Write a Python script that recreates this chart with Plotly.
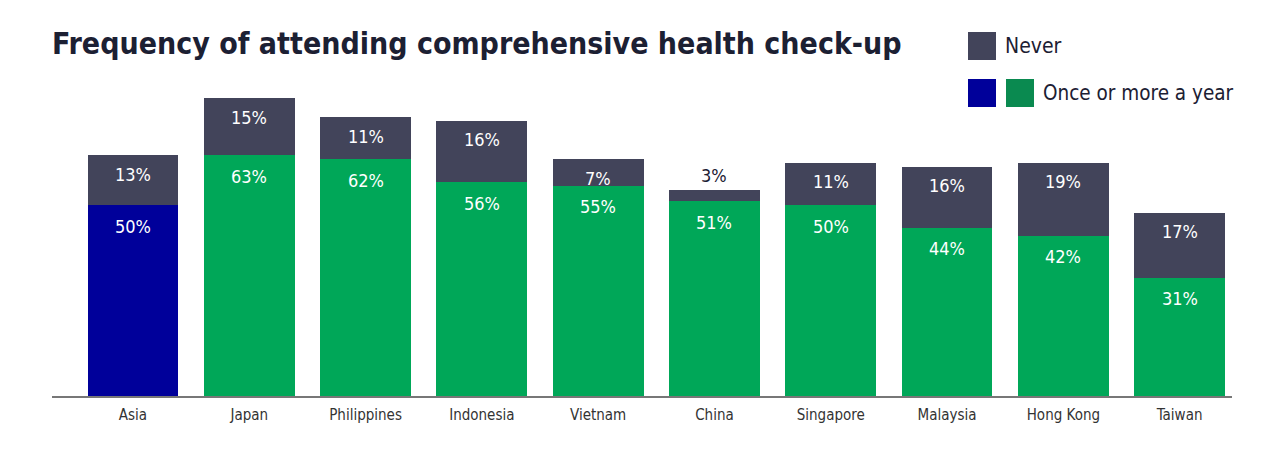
import plotly.graph_objects as go

categories = ["Asia", "Japan", "Philippines", "Indonesia", "Vietnam", "China",
              "Singapore", "Malaysia", "Hong Kong", "Taiwan"]
once_or_more = [50, 63, 62, 56, 55, 51, 50, 44, 42, 31]
never = [13, 15, 11, 16, 7, 3, 11, 16, 19, 17]

title_text = "Frequency of attending comprehensive health check-up"
legend_never = "Never"
legend_once = "Once or more a year"

GREEN = "#00a758"
BLUE = "#00009a"
DARK = "#42445a"
TEXT = "#1c2033"
FONT = "DejaVu Sans Condensed, Roboto, sans-serif"

W, H = 1280, 457
ML, MR, MT, MB = 52, 48, 80, 61
PW = W - ML - MR
PH = H - MT - MB


def px(x):
    return (x - ML) / PW


def py(y):
    return (H - MB - y) / PH


once_colors = [BLUE if c == "Asia" else GREEN for c in categories]

fig = go.Figure()
fig.add_trace(go.Bar(x=categories, y=once_or_more, marker=dict(color=once_colors, line=dict(width=0)),
                     name=legend_once, showlegend=False, hoverinfo="skip"))
fig.add_trace(go.Bar(x=categories, y=never, marker=dict(color=DARK, line=dict(width=0)),
                     name=legend_never, showlegend=False, hoverinfo="skip"))

annotations = []
for c, o, n in zip(categories, once_or_more, never):
    annotations.append(dict(x=c, y=o, xref="x", yref="y", text=f"{o}%", showarrow=False,
                            yshift=-21, font=dict(family=FONT, size=18, color="white")))
    if n >= 5:
        annotations.append(dict(x=c, y=o + n, xref="x", yref="y", text=f"{n}%", showarrow=False,
                                yshift=-19, font=dict(family=FONT, size=18, color="white")))
    else:
        annotations.append(dict(x=c, y=o + n, xref="x", yref="y", text=f"{n}%", showarrow=False,
                                yshift=14, font=dict(family=FONT, size=18, color=TEXT)))

# Title
annotations.append(dict(x=px(50), y=py(43), xref="paper", yref="paper", text=title_text,
                        showarrow=False, xanchor="left", yanchor="middle",
                        font=dict(family=FONT, size=30, color=TEXT, weight="bold")))
# Legend texts
annotations.append(dict(x=px(1003), y=py(46), xref="paper", yref="paper", text=legend_never,
                        showarrow=False, xanchor="left", yanchor="middle",
                        font=dict(family=FONT, size=21, color=TEXT)))
annotations.append(dict(x=px(1041), y=py(93), xref="paper", yref="paper", text=legend_once,
                        showarrow=False, xanchor="left", yanchor="middle",
                        font=dict(family=FONT, size=20.5, color=TEXT)))

shapes = [
    dict(type="rect", xref="paper", yref="paper", x0=px(968), x1=px(996), y0=py(60), y1=py(32),
         fillcolor=DARK, line=dict(width=0)),
    dict(type="rect", xref="paper", yref="paper", x0=px(968), x1=px(996), y0=py(107), y1=py(79),
         fillcolor="#00009a", line=dict(width=0)),
    dict(type="rect", xref="paper", yref="paper", x0=px(1006), x1=px(1034), y0=py(107), y1=py(79),
         fillcolor="#0a8a50", line=dict(width=0)),
]

fig.update_layout(
    width=W, height=H,
    margin=dict(l=ML, r=MR, t=MT, b=MB),
    barmode="stack", bargap=0.22,
    plot_bgcolor="white", paper_bgcolor="white",
    annotations=annotations, shapes=shapes,
    showlegend=False,
    xaxis=dict(range=[-0.696, 9.45], showline=True, linecolor="#777777", linewidth=2,
               ticks="outside", ticklen=4, tickcolor="rgba(0,0,0,0)",
               tickfont=dict(family=FONT, size=15, color="#333333"), showgrid=False,
               fixedrange=True),
    yaxis=dict(range=[0, PH / 3.82], visible=False, showgrid=False, fixedrange=True),
)

fig.write_html("out.html", config={"displayModeBar": False})
